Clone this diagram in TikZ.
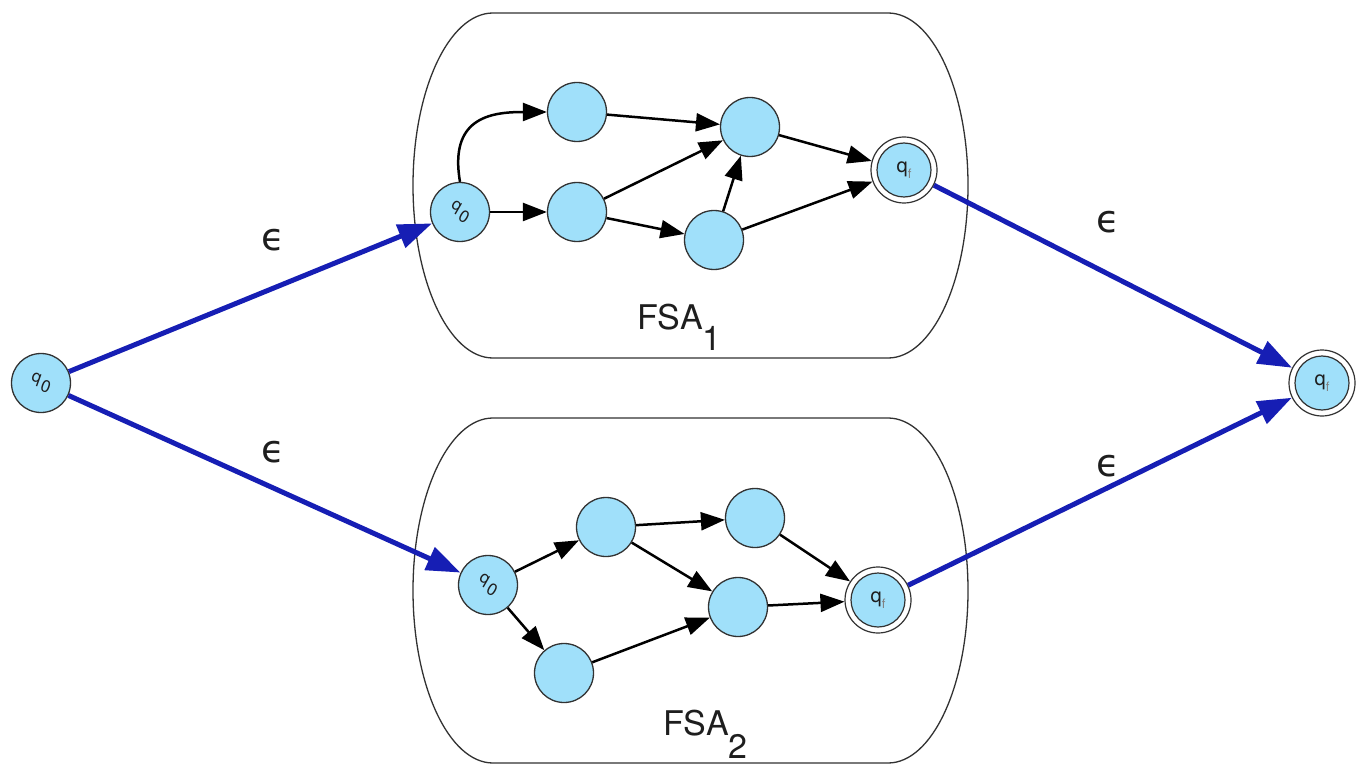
\documentclass[tikz,border=0pt]{standalone}
\usepackage{fontspec}
\usepackage{graphicx}
\setmainfont{TeX Gyre Heros}
\newfontfamily\djv{DejaVu Sans}
\usetikzlibrary{arrows.meta}
\definecolor{stfill}{RGB}{160,224,250}
\definecolor{stborder}{RGB}{50,50,50}
\definecolor{eblue}{RGB}{22,30,180}
\definecolor{txt}{RGB}{30,30,30}
\newcommand\qzero{\rotatebox{-30}{\fontsize{17}{17}\selectfont q\kern2.5pt\raisebox{-7pt}{0}}}
\newcommand\qfin{{\fontsize{20}{20}\selectfont q\raisebox{-6pt}{\fontsize{13}{13}\selectfont\color{gray}f}}}
\begin{document}
\begin{tikzpicture}[x=1pt,y=-1pt,
  st/.style={circle, draw=stborder, line width=1.3pt, fill=stfill, minimum size=59pt, inner sep=0pt, text=txt},
  fin/.style={circle, draw=stborder, line width=1.2pt, fill=white, minimum size=66pt, inner sep=0pt},
  finin/.style={circle, draw=stborder, line width=1.2pt, fill=stfill, minimum size=54pt, inner sep=0pt, text=txt},
  ed/.style={-{Triangle[length=24pt,width=18pt]}, line width=2.5pt, black},
  eps/.style={-{Triangle[length=34pt,width=24pt]}, line width=5pt, eblue},
  boxline/.style={draw=stborder, line width=1.3pt},
  epslab/.style={font=\djv\fontsize{38}{38}\selectfont, text=txt},
  fsalab/.style={anchor=base west, font=\fontsize{34}{34}\selectfont, text=txt, inner sep=0pt},
  fsabox/.pic={\path[boxline] (493,0) .. controls (448.8,0) and (413,77.2) .. (413,172.5) .. controls (413,267.8) and (448.8,345) .. (493,345) -- (888,345) .. controls (932.2,345) and (968,267.8) .. (968,172.5) .. controls (968,77.2) and (932.2,0) .. (888,0) -- cycle;}
]
\useasboundingbox (0,0) rectangle (1356,767);
\fill[white] (0,0) rectangle (1356,767);

% boxes
\pic at (0,13) {fsabox};
\pic at (0,418) {fsabox};

% outer states
\node[st] (s0) at (41,383) {\rotatebox{10}{\qzero}};
\node[fin] (sf) at (1322,383) {};
\node[finin] (sfin) at (1322,383) {\qfin};

% FSA1
\node[st] (a0) at (460,212) {\qzero};
\node[st] (a1) at (577,112) {};
\node[st] (a2) at (577,212) {};
\node[st] (a3) at (750,127) {};
\node[st] (a4) at (714,240) {};
\node[fin] (af) at (904,170) {};
\node[finin] (afin) at (904,170) {\qfin};

\draw[ed] (a0.north) .. controls (449,118) and (490,112) .. (a1.west);
\draw[ed] (a0) -- (a2);
\draw[ed] (a1) -- (a3);
\draw[ed] (a2) -- (a3);
\draw[ed] (a2) -- (a4);
\draw[ed] (a4) -- (a3);
\draw[ed] (a3) -- (af);
\draw[ed] (a4) -- (af);

% FSA2
\node[st] (b0) at (488,585) {\qzero};
\node[st] (b1) at (606,527) {};
\node[st] (b2) at (755,518) {};
\node[st] (b3) at (738,607) {};
\node[st] (b4) at (564,673) {};
\node[fin] (bf) at (878,600) {};
\node[finin] (bfin) at (878,600) {\qfin};

\draw[ed] (b0) -- (b1);
\draw[ed] (b0) -- (b4);
\draw[ed] (b1) -- (b2);
\draw[ed] (b1) -- (b3);
\draw[ed] (b2) -- (bf);
\draw[ed] (b3) -- (bf);
\draw[ed] (b4) -- (b3);

% epsilon transitions
\draw[eps] (s0) -- (a0);
\draw[eps] (s0) -- (b0);
\draw[eps] (af) -- (sf);
\draw[eps] (bf) -- (sf);

\node[epslab] (e1) at (273,240) {ϵ};
\node[epslab] (e2) at (273,452) {ϵ};
\node[epslab] (e3) at (1108,222) {ϵ};
\node[epslab] (e4) at (1108,466) {ϵ};

\node[fsalab] (l1) at (637,329) {FSA\raisebox{-21pt}{1}};
\node[fsalab] (l2) at (663,735) {FSA\raisebox{-23pt}{2}};
\end{tikzpicture}
\end{document}
